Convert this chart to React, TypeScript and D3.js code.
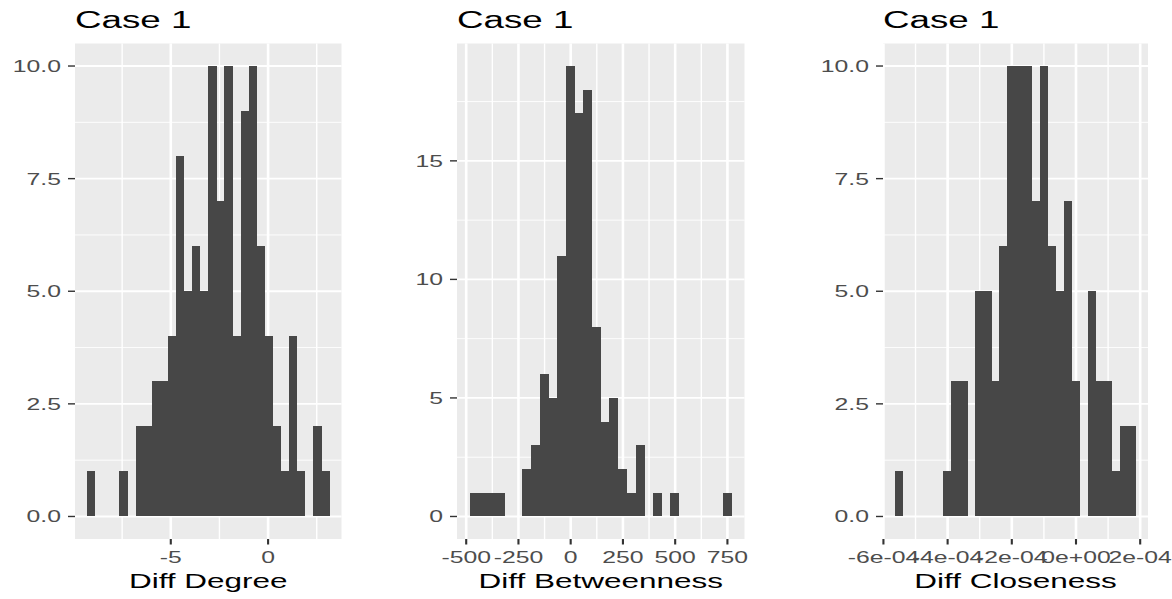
import React from "react";
import * as d3 from "d3";

// histogram counts, 30 bins each
const degreeCounts = [1, 0, 0, 0, 1, 0, 2, 2, 3, 3, 4, 8, 5, 6, 5, 10, 7, 10, 4, 9, 10, 6, 4, 2, 1, 4, 1, 0, 2, 1];
const betweenCounts = [1, 1, 1, 1, 0, 0, 2, 3, 6, 5, 11, 19, 17, 18, 8, 4, 5, 2, 1, 3, 0, 1, 0, 1, 0, 0, 0, 0, 0, 1];
const closeCounts = [1, 0, 0, 0, 0, 0, 1, 3, 3, 0, 5, 5, 3, 6, 10, 10, 10, 7, 10, 6, 5, 7, 3, 0, 5, 3, 3, 1, 2, 2];

// first bin edge, bin width
const degreeBins = [-9.3, 0.415];
const betweenBins = [-481.5, 41.69];
const closeBins = [-5.638e-4, 2.502e-5];

const degreeTicks = [-5, 0];
const degreeTickLabels = ["-5", "0"];
const betweenTicks = [-500, -250, 0, 250, 500, 750];
const betweenTickLabels = ["-500", "-250", "0", "250", "500", "750"];
const closeTicks = [-6e-4, -4e-4, -2e-4, 0, 2e-4];
const closeTickLabels = ["-6e-04", "-4e-04", "-2e-04", "0e+00", "2e-04"];

const countTicks = [0, 2.5, 5, 7.5, 10];
const countTickLabels = ["0.0", "2.5", "5.0", "7.5", "10.0"];
const countTicks2 = [0, 5, 10, 15];
const countTickLabels2 = ["0", "5", "10", "15"];

const titles = ["Case 1", "Case 1", "Case 1"];
const xTitles = ["Diff Degree", "Diff Betweenness", "Diff Closeness"];

const W = 1172;
const H = 599;
const TOP = 43.5;
const BOTTOM = 539;
const SX = 1.5; // the picture is stretched sideways
const FONT = "'Liberation Sans', Arial, Helvetica, sans-serif";

function minors(major, domain) {
	const step = major[1] - major[0];
	let out = [];
	for (let v = major[0] - step / 2; v <= domain[1]; v += step) {
		if (v >= domain[0]) out.push(v);
	}
	return out;
}

function Panel({ left, right, counts, bins, xTicks, xLabels, yTicks, yLabels, title, xTitle }) {
	const [start, bw] = bins;
	const end = start + bw * counts.length;
	const pad = (end - start) * 0.05;
	const xDomain = [start - pad, end + pad];
	const yMax = d3.max(counts);
	const yDomain = [-0.05 * yMax, 1.05 * yMax];

	const x = d3.scaleLinear().domain(xDomain).range([left, right]);
	const y = d3.scaleLinear().domain(yDomain).range([BOTTOM, TOP]);

	const xMinor = minors(xTicks, xDomain);
	const yMinor = minors(yTicks, yDomain);
	const cx = (left + right) / 2;

	return (
		<g>
			<rect x={left} y={TOP} width={right - left} height={BOTTOM - TOP} fill="#EBEBEB" />
			{yMinor.map((v, i) => (
				<line key={"ym" + i} x1={left} x2={right} y1={y(v)} y2={y(v)} stroke="#fff" strokeWidth={0.9} />
			))}
			{xMinor.map((v, i) => (
				<line key={"xm" + i} x1={x(v)} x2={x(v)} y1={TOP} y2={BOTTOM} stroke="#fff" strokeWidth={1.4} />
			))}
			{yTicks.map((v, i) => (
				<line key={"yM" + i} x1={left} x2={right} y1={y(v)} y2={y(v)} stroke="#fff" strokeWidth={1.8} />
			))}
			{xTicks.map((v, i) => (
				<line key={"xM" + i} x1={x(v)} x2={x(v)} y1={TOP} y2={BOTTOM} stroke="#fff" strokeWidth={2.6} />
			))}
			<g shapeRendering="crispEdges">
			{counts.map((c, i) =>
				c > 0 ? (
					<rect key={"b" + i}
						x={x(start + i * bw)}
						width={x(start + (i + 1) * bw) - x(start + i * bw) + 0.3}
						y={y(c)}
						height={y(0) - y(c)}
						fill="#474747" />
				) : null
			)}
			</g>
			{/* axes */}
			{yTicks.map((v, i) => (
				<g key={"yt" + i}>
					<line x1={left - 7} x2={left} y1={y(v)} y2={y(v)} stroke="#333" strokeWidth={1.4} />
					<text transform={`translate(${left - 14},${y(v)}) scale(${SX},1)`}
						textAnchor="end" dy="0.36em" fill="#4D4D4D" fontSize={16.5} fontFamily={FONT}>
						{yLabels[i]}
					</text>
				</g>
			))}
			{xTicks.map((v, i) => (
				<g key={"xt" + i}>
					<line x1={x(v)} x2={x(v)} y1={BOTTOM} y2={BOTTOM + 5.5} stroke="#333" strokeWidth={2.1} />
					<text transform={`translate(${x(v)},562.5) scale(${SX},1)`}
						textAnchor="middle" fill="#4D4D4D" fontSize={16.5} fontFamily={FONT}>
						{xLabels[i]}
					</text>
				</g>
			))}
			<text transform={`translate(${cx},588) scale(${SX},1)`}
				textAnchor="middle" fill="#000" fontSize={21} fontFamily={FONT}>
				{xTitle}
			</text>
			<text transform={`translate(${left},27.5) scale(${SX},1)`}
				fill="#000" fontSize={24.5} fontFamily={FONT}>
				{title}
			</text>
		</g>
	);
}

export default function App() {
	return (
		<svg width={W} height={H} style={{ position: "absolute", left: 0, top: 0, background: "#fff" }}>
			<rect width={W} height={H} fill="#fff" />
			<Panel left={75} right={341.5}
				counts={degreeCounts} bins={degreeBins}
				xTicks={degreeTicks} xLabels={degreeTickLabels}
				yTicks={countTicks} yLabels={countTickLabels}
				title={titles[0]} xTitle={xTitles[0]} />
			<Panel left={457} right={744.5}
				counts={betweenCounts} bins={betweenBins}
				xTicks={betweenTicks} xLabels={betweenTickLabels}
				yTicks={countTicks2} yLabels={countTickLabels2}
				title={titles[1]} xTitle={xTitles[1]} />
			<Panel left={883} right={1148}
				counts={closeCounts} bins={closeBins}
				xTicks={closeTicks} xLabels={closeTickLabels}
				yTicks={countTicks} yLabels={countTickLabels}
				title={titles[2]} xTitle={xTitles[2]} />
		</svg>
	);
}
